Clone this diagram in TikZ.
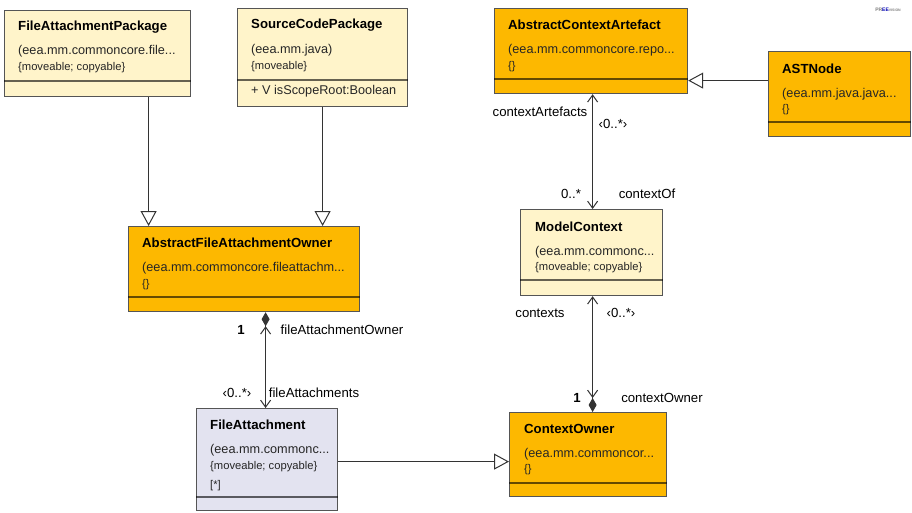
\documentclass[tikz,border=0pt]{standalone}
\usepackage{fontspec}
\setmainfont{Liberation Sans}
\usetikzlibrary{arrows.meta}
\definecolor{lightyel}{HTML}{FFF4CA}
\definecolor{orng}{HTML}{FDB800}
\definecolor{lav}{HTML}{E3E3F0}
\definecolor{bordr}{HTML}{555555}
\definecolor{lnk}{HTML}{333333}
\tikzset{
 navtip/.tip={Straight Barb[length=7pt, width=10pt]},
 comptip/.tip={Diamond[length=14pt, width=8pt]}
}
\begin{document}
\begin{tikzpicture}[x=1pt,y=-1pt,
 box/.style={draw=bordr, line width=1.2pt, rectangle, inner sep=0pt, anchor=north west},
 sepline/.style={draw=black, draw opacity=0.6, line width=1.2pt},
 ttl/.style={anchor=west, inner sep=0pt, font=\bfseries\fontsize{13.2}{15}\selectfont},
 body/.style={anchor=west, inner sep=0pt, font=\fontsize{12.7}{14}\selectfont, text=black!85},
 small/.style={anchor=west, inner sep=0pt, font=\fontsize{11.2}{12}\selectfont, text=black!85},
 lbl/.style={inner sep=0pt, font=\fontsize{13.2}{15}\selectfont},
 conn/.style={draw=lnk, line width=1pt},
 gen/.style={conn, -{Triangle[open, length=15pt, width=16pt, fill=white]}}
]
\useasboundingbox (0,0) rectangle (912,513);

% ---------- boxes ----------
\node[box, fill=lightyel, minimum width=186pt, minimum height=86pt] (fap) at (4,10) {};
\draw[sepline] ([yshift=-71pt]fap.north west) -- ([yshift=-71pt]fap.north east);
\node[ttl] (fapT) at (18,27) {FileAttachmentPackage};
\node[body] (fapA) at (18,51) {(eea.mm.commoncore.file...};
\node[small] (fapB) at (18,68) {\{moveable; copyable\}};

\node[box, fill=lightyel, minimum width=170pt, minimum height=98pt] (scp) at (237,8) {};
\draw[sepline] ([yshift=-72pt]scp.north west) -- ([yshift=-72pt]scp.north east);
\node[ttl] (scpT) at (251,25) {SourceCodePackage};
\node[body] (scpA) at (251,50) {(eea.mm.java)};
\node[small] (scpB) at (251,67) {\{moveable\}};
\node[body] (scpC) at (251,91) {+ V isScopeRoot:Boolean};

\node[box, fill=orng, minimum width=193pt, minimum height=85pt] (aca) at (494,8) {};
\draw[sepline] ([yshift=-71pt]aca.north west) -- ([yshift=-71pt]aca.north east);
\node[ttl] (acaT) at (508,25) {AbstractContextArtefact};
\node[body] (acaA) at (508,50) {(eea.mm.commoncore.repo...};
\node[small] (acaB) at (508,67) {\{\}};

\node[box, fill=orng, minimum width=142pt, minimum height=85pt] (ast) at (768,51) {};
\draw[sepline] ([yshift=-71pt]ast.north west) -- ([yshift=-71pt]ast.north east);
\node[ttl] (astT) at (782,69) {ASTNode};
\node[body] (astA) at (782,94) {(eea.mm.java.java...};
\node[small] (astB) at (782,110) {\{\}};

\node[box, fill=orng, minimum width=231pt, minimum height=85pt] (afao) at (128,226) {};
\draw[sepline] ([yshift=-71pt]afao.north west) -- ([yshift=-71pt]afao.north east);
\node[ttl] (afaoT) at (142,243) {AbstractFileAttachmentOwner};
\node[body] (afaoA) at (142,268) {(eea.mm.commoncore.fileattachm...};
\node[small] (afaoB) at (142,285) {\{\}};

\node[box, fill=lightyel, minimum width=142pt, minimum height=86pt] (mc) at (520,209) {};
\draw[sepline] ([yshift=-71pt]mc.north west) -- ([yshift=-71pt]mc.north east);
\node[ttl] (mcT) at (535,227) {ModelContext};
\node[body] (mcA) at (535,252) {(eea.mm.commonc...};
\node[small] (mcB) at (535,268) {\{moveable; copyable\}};

\node[box, fill=lav, minimum width=141pt, minimum height=102pt] (fa) at (196,408) {};
\draw[sepline] ([yshift=-89pt]fa.north west) -- ([yshift=-89pt]fa.north east);
\node[ttl] (faT) at (210,425) {FileAttachment};
\node[body] (faA) at (210,450) {(eea.mm.commonc...};
\node[small] (faB) at (210,467) {\{moveable; copyable\}};
\node[small] (faC) at (210,486) {[*]};

\node[box, fill=orng, minimum width=157pt, minimum height=84pt] (co) at (509,412) {};
\draw[sepline] ([yshift=-71pt]co.north west) -- ([yshift=-71pt]co.north east);
\node[ttl] (coT) at (524,429) {ContextOwner};
\node[body] (coA) at (524,454) {(eea.mm.commoncor...};
\node[small] (coB) at (524,470) {\{\}};

% ---------- logo ----------
\node[inner sep=0pt, font=\bfseries\fontsize{5}{6}\selectfont] (logo) at (888,10)
  {\textcolor{gray}{PR}\textcolor{blue!70!black}{EE}\textcolor{gray}{\fontsize{3.5}{4}\selectfont VISION}};

% ---------- generalizations ----------
\draw[gen] ([xshift=51pt]fap.south) -- ([xshift=-95.5pt]afao.north);
\draw[gen] (scp.south) -- ([xshift=78.5pt]afao.north);
\draw[gen] ([yshift=13.5pt]ast.west) -- ([yshift=-29.5pt]aca.east);
\draw[gen] ([yshift=-2pt]fa.east) -- ([yshift=-7pt]co.west);

% ---------- associations ----------
\draw[conn, {navtip[]}-{navtip[]}] ([xshift=1.5pt]aca.south) -- ([xshift=1pt]mc.north);
\draw[conn, {comptip[]navtip[]}-{navtip[]}] ([xshift=21.5pt]afao.south) -- ([xshift=-1.5pt]fa.north);
\draw[conn, {navtip[]}-{navtip[]comptip[]}] ([xshift=1pt]mc.south) -- ([xshift=4.5pt]co.north);

% ---------- labels ----------
\node[lbl] (l1) at (540,112) {contextArtefacts};
\node[lbl] (l2) at (613,124) {‹0..*›};
\node[lbl] (l3) at (571,194) {0..*};
\node[lbl] (l4) at (647,194) {contextOf};
\node[lbl] (l5) at (540,313) {contexts};
\node[lbl] (l6) at (621,313) {‹0..*›};
\node[lbl, font=\bfseries\fontsize{13.2}{15}\selectfont] (l7) at (577,398) {1};
\node[lbl] (l8) at (662,398) {contextOwner};
\node[lbl, font=\bfseries\fontsize{13.2}{15}\selectfont] (l9) at (241,330) {1};
\node[lbl] (l10) at (342,330) {fileAttachmentOwner};
\node[lbl] (l11) at (237,393) {‹0..*›};
\node[lbl] (l12) at (314,393) {fileAttachments};
\end{tikzpicture}
\end{document}
